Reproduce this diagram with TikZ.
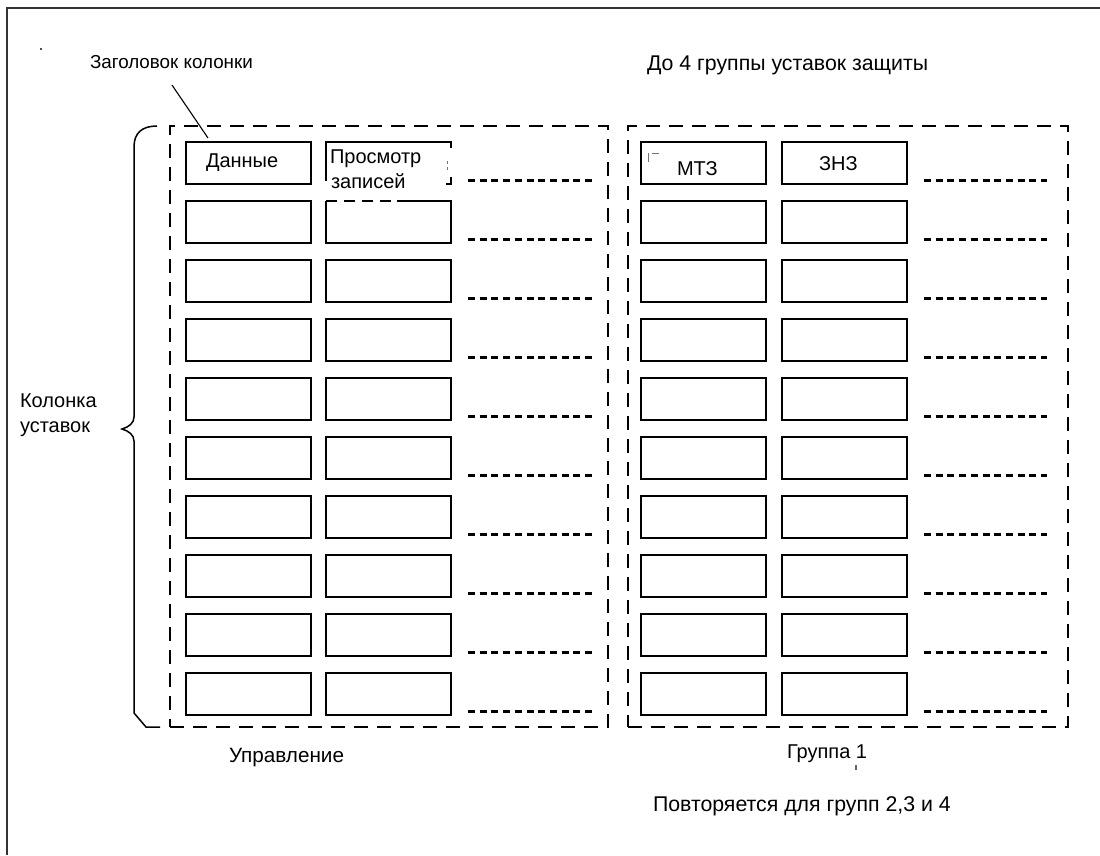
\documentclass[tikz,border=0pt]{standalone}
\usepackage{fontspec}
\setmainfont{Liberation Sans}
\begin{document}
\begin{tikzpicture}[x=1pt,y=-1pt,
  cell/.style={draw=black, line width=1.8pt, minimum width=125pt, minimum height=42pt, inner sep=0pt, outer sep=0pt, anchor=north west},
  opencell/.style={cell, draw=none},
  grp/.style={draw=black, line width=1.5pt, dash pattern=on 14pt off 9pt, inner sep=0pt, outer sep=0pt, anchor=north west},
  dotline/.style={draw=black, line width=3pt, dash pattern=on 7pt off 4.7pt},
  lbl/.style={inner sep=0pt, outer sep=0pt, anchor=base west, font=\fontsize{20pt}{24pt}\selectfont},
  biglbl/.style={lbl, font=\fontsize{21.3pt}{25pt}\selectfont},
  midlbl/.style={lbl, font=\fontsize{20.7pt}{25pt}\selectfont},
  smalllbl/.style={lbl, font=\fontsize{18.8pt}{22pt}\selectfont},
  brace/.style={draw=black, line width=1.5pt},
  leader/.style={draw=black, line width=1.1pt},
  frame/.style={draw=black!80, line width=2pt},
  speck/.style={draw=black!55, line width=1pt}
]
\useasboundingbox (0,0) rectangle (1100,855);
% outer frame (open at right and bottom)
\draw[frame] (7,855) -- (7,8) -- (1100,8);
\fill[black!70] (40,48) rectangle (42,50);

% group frames
\node[grp, minimum width=438pt, minimum height=601pt] (gL) at (170,126) {};
\node[grp, minimum width=440pt, minimum height=601pt] (gR) at (628,126) {};

% cells
\foreach \r in {1,...,10} {
  \pgfmathsetmacro\yy{142+59*(\r-1)}
  \pgfmathsetmacro\yd{\yy+38}
  \node[cell] (L1-\r) at (186,\yy) {};
  \node[cell] (R1-\r) at (641,\yy) {};
  \node[cell] (R2-\r) at (782,\yy) {};
  \coordinate (Ld-\r a) at (468,\yd);
  \coordinate (Ld-\r b) at (592,\yd);
  \coordinate (Rd-\r a) at (924,\yd);
  \coordinate (Rd-\r b) at (1047,\yd);
  \draw[dotline] (Ld-\r a) -- (Ld-\r b);
  \draw[dotline] (Rd-\r a) -- (Rd-\r b);
}
\foreach \r in {3,...,10} {
  \pgfmathsetmacro\yy{142+59*(\r-1)}
  \node[cell] (L2-\r) at (326,\yy) {};
}
% row 1, column 2 (partly drawn)
\node[opencell] (L2-1) at (326,142) {};
\draw[line width=1.8pt] (L2-1.south west) ++(0,-3) -- (L2-1.north west) -- (L2-1.north east) -- ++(0,6);
\draw[line width=1.8pt] (L2-1.south east) ++(-5,0) -- (L2-1.south east) -- ++(0,-7);
\draw[speck] (447,161) -- (447,164) (447,167) -- (447,170);
% row 2, column 2 (top edge partly dashed)
\node[opencell] (L2-2) at (326,201) {};
\coordinate (L2-2m) at (397,201);
\draw[line width=1.8pt] (L2-2m) -- (L2-2.north east) -- (L2-2.south east) -- (L2-2.south west) -- (L2-2.north west);
\draw[line width=1.8pt, dash pattern=on 11pt off 7pt] (L2-2.north west) -- (L2-2m);

% brace
\draw[brace] (157,126) .. controls (142,126) and (134,133) .. (134,147) -- (134,417)
  .. controls (134,423) and (129,427) .. (122,429)
  .. controls (129,431) and (134,435) .. (134,441) -- (134,713)
  -- (146,727) -- (160,727);

% texts
\node[smalllbl] (zag) at (90,68) {Заголовок колонки};
\coordinate (lead-a) at (172,85);
\coordinate (lead-b) at (208,138);
\draw[leader] (lead-a) -- (lead-b);
\node[biglbl] (title) at (647,70) {До 4 группы уставок защиты};
\node[lbl] (kol1) at (20,407) {Колонка};
\node[lbl] (kol2) at (20,432) {уставок};
\node[lbl] (dan) at (206,167) {Данные};
\node[lbl] (pros1) at (330,163) {Просмотр};
\node[lbl] (pros2) at (331,188) {записей};
\node[lbl] (mtz) at (677,175) {МТЗ};
\node[lbl] (znz) at (819,170) {ЗНЗ};
\draw[speck] (648,153) -- (648,162) (652,153) -- (659,153);
\node[midlbl] (upr) at (229,762) {Управление};
\node[lbl] (gr1) at (787,758) {Группа 1};
\fill[black!60] (855,765) rectangle (857,770);
\node[biglbl] (povt) at (653,811) {Повторяется для групп 2,3 и 4};
\end{tikzpicture}
\end{document}
